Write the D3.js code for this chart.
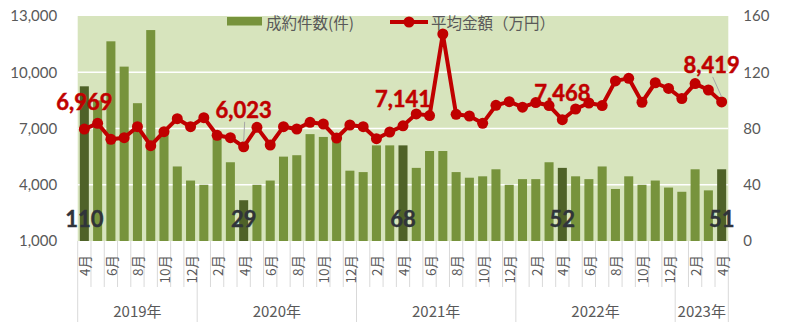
<!DOCTYPE html>
<html>
<head>
<meta charset="utf-8">
<script src="https://cdn.jsdelivr.net/npm/d3@7"></script>
<style>
  body { margin: 0; background: #fff; }
  svg { display: block; }
</style>
</head>
<body>
<svg id="chart" width="800" height="326"></svg>
<script>
// Monthly categories, April 2019 – April 2023
const months = [
  "2019-04","2019-05","2019-06","2019-07","2019-08","2019-09","2019-10","2019-11","2019-12",
  "2020-01","2020-02","2020-03","2020-04","2020-05","2020-06","2020-07","2020-08","2020-09","2020-10","2020-11","2020-12",
  "2021-01","2021-02","2021-03","2021-04","2021-05","2021-06","2021-07","2021-08","2021-09","2021-10","2021-11","2021-12",
  "2022-01","2022-02","2022-03","2022-04","2022-05","2022-06","2022-07","2022-08","2022-09","2022-10","2022-11","2022-12",
  "2023-01","2023-02","2023-03","2023-04"
];

// 成約件数（件） – bars, right axis
const deals = [
  110, 100, 142, 124, 98, 150, 78, 53, 43,
  40, 74, 56, 29, 40, 43, 60, 61, 76, 74, 72, 50,
  49, 68, 68, 68, 52, 64, 64, 49, 45, 46, 51, 40,
  44, 44, 56, 52, 46, 44, 53, 37, 46, 40, 43, 38,
  35, 51, 36, 51
];

// 平均金額（万円） – line, left axis
const avgPrice = [
  6969, 7277, 6424, 6511, 7096, 6084, 6831, 7524, 7096,
  7578, 6636, 6511, 6023, 7062, 6120, 7096, 6973, 7329, 7240, 6493, 7187,
  7096, 6456, 6813, 7141, 7780, 7690, 12040, 7757, 7667, 7275, 8235, 8431,
  8140, 8385, 8225, 7468, 8040, 8360, 8225, 9540, 9675, 8400, 9440, 9135,
  8600, 9395, 9053, 8419
];

// Months whose values are called out (each April)
const highlighted = ["2019-04", "2020-04", "2021-04", "2022-04", "2023-04"];

const leftTicks = [1000, 4000, 7000, 10000, 13000];
const rightTicks = [0, 40, 80, 120, 160];

const legendLabels = ["成約件数(件)", "平均金額（万円）"];

// ---- layout ----
const plot = { left: 77.7, right: 728.3, top: 16, bottom: 241 };
const COLORS = {
  bg: "#d7e4bd",
  bar: "#77933c",
  barDark: "#4f6228",
  line: "#c00000",
  text: "#595959",
  sep: "#d9d9d9",
  barLabel: "#30343a"
};
const numFont = "Lato, 'Liberation Sans', sans-serif";
const cjkFont = "'Noto Sans CJK JP', sans-serif";

const svg = d3.select("#chart");

const x = d3.scaleBand()
  .domain(months)
  .range([plot.left, plot.right])
  .paddingInner(0.32)
  .paddingOuter(0.16);
const step = x.step();
const cx = d => x(d) + x.bandwidth() / 2;

const yL = d3.scaleLinear().domain([1000, 13000]).range([plot.bottom, plot.top]);
const yR = d3.scaleLinear().domain([0, 160]).range([plot.bottom, plot.top]);

// plot background
svg.append("rect")
  .attr("x", plot.left).attr("y", plot.top)
  .attr("width", plot.right - plot.left).attr("height", plot.bottom - plot.top)
  .attr("fill", COLORS.bg);

// horizontal gridlines
svg.append("g").selectAll("line")
  .data(leftTicks.slice(1, -1))
  .join("line")
  .attr("x1", plot.left).attr("x2", plot.right)
  .attr("y1", d => yL(d)).attr("y2", d => yL(d))
  .attr("stroke", "#ffffff").attr("stroke-width", 1.6);

// bars
const rows = months.map((m, i) => ({ m, deals: deals[i], price: avgPrice[i], hi: highlighted.includes(m) }));

svg.append("g").selectAll("rect")
  .data(rows)
  .join("rect")
  .attr("x", d => x(d.m))
  .attr("width", x.bandwidth())
  .attr("y", d => yR(d.deals))
  .attr("height", d => yR(0) - yR(d.deals))
  .attr("fill", d => d.hi ? COLORS.barDark : COLORS.bar);

// bar value labels at the base
svg.append("g").selectAll("text")
  .data(rows.filter(d => d.hi))
  .join("text")
  .attr("x", d => cx(d.m))
  .attr("y", yR(0) - 14)
  .attr("text-anchor", "middle")
  .attr("font-family", numFont)
  .attr("font-weight", 700)
  .attr("font-size", 22)
  .attr("fill", COLORS.barLabel)
  .attr("stroke", COLORS.barLabel)
  .attr("stroke-width", 0.4)
  .text(d => d.deals);

// left axis
const gL = svg.append("g")
  .attr("transform", `translate(${plot.left},0)`)
  .call(d3.axisLeft(yL).tickValues(leftTicks).tickSize(0).tickPadding(20.5).tickFormat(d3.format(",")));
gL.select(".domain").remove();
gL.selectAll("text")
  .attr("font-family", numFont).attr("font-size", 15).attr("fill", COLORS.text);

// right axis
const gR = svg.append("g")
  .attr("transform", `translate(${plot.right},0)`)
  .call(d3.axisRight(yR).tickValues(rightTicks).tickSize(0).tickPadding(15));
gR.select(".domain").remove();
gR.selectAll("text")
  .attr("font-family", numFont).attr("font-size", 15).attr("fill", COLORS.text);

// category axis: separators, month labels, year groups
const yearOf = m => m.slice(0, 4);
const monthOf = m => +m.slice(5);
const years = Array.from(d3.group(months, yearOf), ([yr, ms]) => ({
  yr, first: months.indexOf(ms[0]), count: ms.length
}));

const gx = svg.append("g");
const yearStarts = new Set(years.map(y => y.first).concat([months.length]));
gx.selectAll("line.sep")
  .data(d3.range(months.length + 1))
  .join("line")
  .attr("x1", i => plot.left + i * step).attr("x2", i => plot.left + i * step)
  .attr("y1", plot.bottom)
  .attr("y2", i => yearStarts.has(i) ? 322 : 287)
  .attr("stroke", COLORS.sep).attr("stroke-width", 1);

gx.selectAll("text.month")
  .data(months.filter((m, i) => i % 2 === 0))
  .join("text")
  .attr("transform", m => `translate(${cx(m)},255) rotate(-90)`)
  .attr("text-anchor", "end")
  .attr("dominant-baseline", "central")
  .attr("font-family", cjkFont)
  .attr("font-size", 13.5)
  .attr("fill", COLORS.text)
  .text(m => monthOf(m) + "月");

gx.selectAll("text.year")
  .data(years)
  .join("text")
  .attr("x", d => plot.left + (d.first + d.count / 2) * step)
  .attr("y", 310)
  .attr("text-anchor", "middle")
  .attr("dominant-baseline", "central")
  .attr("font-family", cjkFont)
  .attr("font-size", 15)
  .attr("fill", COLORS.text)
  .text(d => d.yr + "年");

// price line
svg.append("path")
  .datum(rows)
  .attr("d", d3.line().x(d => cx(d.m)).y(d => yL(d.price)))
  .attr("fill", "none")
  .attr("stroke", COLORS.line)
  .attr("stroke-width", 4)
  .attr("stroke-linejoin", "round");

svg.append("g").selectAll("circle")
  .data(rows)
  .join("circle")
  .attr("cx", d => cx(d.m))
  .attr("cy", d => yL(d.price))
  .attr("r", 5.5)
  .attr("fill", COLORS.line);

// price callouts; two of them sit higher with a leader line
const shift = { "2020-04": [0, -29], "2023-04": [-10, -29] };
const callouts = rows.filter(d => d.hi).map(d => {
  const [dx, dy] = shift[d.m] || [0, -19];
  return { ...d, lx: cx(d.m) + dx, ly: yL(d.price) + dy, leader: !!shift[d.m] };
});

svg.append("g").selectAll("line")
  .data(callouts.filter(d => d.leader))
  .join("line")
  .attr("x1", d => d.lx + 1).attr("y1", d => d.ly + 4)
  .attr("x2", d => cx(d.m)).attr("y2", d => yL(d.price) - 5)
  .attr("stroke", "#a6a6a6").attr("stroke-width", 1);

svg.append("g").selectAll("text")
  .data(callouts)
  .join("text")
  .attr("x", d => d.lx)
  .attr("y", d => d.ly)
  .attr("text-anchor", "middle")
  .attr("font-family", numFont)
  .attr("font-weight", 700)
  .attr("font-size", 22)
  .attr("fill", COLORS.line)
  .attr("stroke", COLORS.line)
  .attr("stroke-width", 0.5)
  .text(d => d3.format(",")(d.price));

// legend
const lg = svg.append("g");
lg.append("rect")
  .attr("x", 227).attr("y", 17).attr("width", 35).attr("height", 8.5)
  .attr("fill", COLORS.bar);
lg.append("text")
  .attr("x", 266).attr("y", 22)
  .attr("dominant-baseline", "central")
  .attr("font-family", cjkFont).attr("font-size", 15.5).attr("fill", COLORS.text)
  .text(legendLabels[0]);
lg.append("line")
  .attr("x1", 390).attr("x2", 428).attr("y1", 22).attr("y2", 22)
  .attr("stroke", COLORS.line).attr("stroke-width", 4);
lg.append("circle")
  .attr("cx", 409).attr("cy", 22).attr("r", 5.5).attr("fill", COLORS.line);
lg.append("text")
  .attr("x", 431).attr("y", 22)
  .attr("dominant-baseline", "central")
  .attr("font-family", cjkFont).attr("font-size", 15.5).attr("fill", COLORS.text)
  .text(legendLabels[1]);
</script>
</body>
</html>
